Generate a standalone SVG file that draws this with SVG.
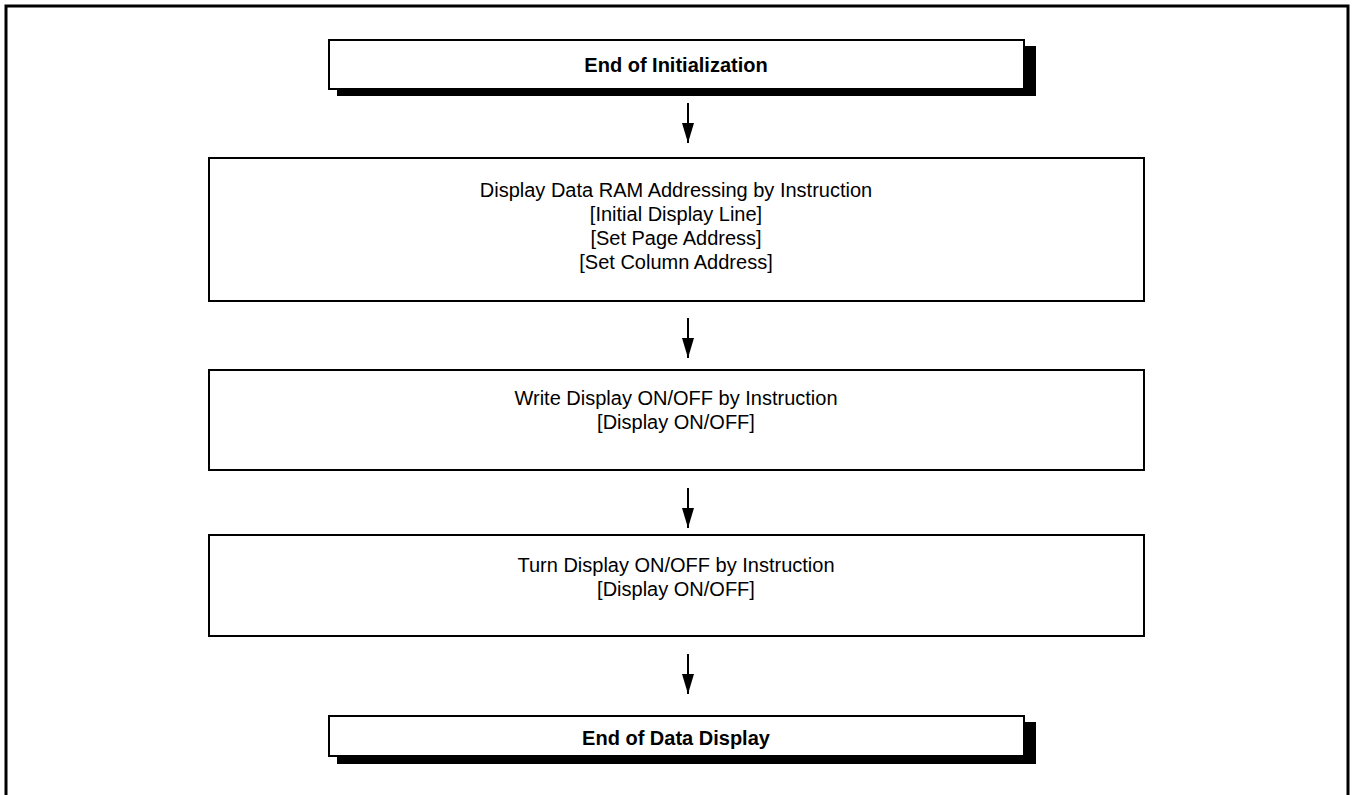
<svg xmlns="http://www.w3.org/2000/svg" width="1352" height="795" viewBox="0 0 1352 795">
<defs>
<style>
.t{font-family:"Liberation Sans",Arial,sans-serif;font-size:20px;fill:#000;text-anchor:middle}
.b{font-weight:bold}
.box{fill:#fff;stroke:#000;stroke-width:2}
.sh{fill:#000}
.c{stroke:#000;stroke-width:2;fill:none}
</style>
<marker id="ah" markerWidth="20" markerHeight="12" refX="20" refY="6" orient="auto" markerUnits="userSpaceOnUse" viewBox="0 0 20 12">
<path d="M0,0 L20,6 L0,12 Z" fill="#000"/>
</marker>
</defs>
<rect width="1352" height="795" fill="#fff"/>
<path d="M6,800 L6,6 L1348,6 L1348,800" fill="none" stroke="#000" stroke-width="3"/>
<g id="connectors">
<line class="c" x1="688" y1="103" x2="688" y2="143" marker-end="url(#ah)"/>
<line class="c" x1="688" y1="318" x2="688" y2="358" marker-end="url(#ah)"/>
<line class="c" x1="688" y1="488" x2="688" y2="528" marker-end="url(#ah)"/>
<line class="c" x1="688" y1="654" x2="688" y2="694" marker-end="url(#ah)"/>
</g>
<g id="n1">
<rect class="sh" x="337" y="46" width="699" height="50"/>
<rect class="box" x="329" y="40" width="695" height="49"/>
<text class="t b" x="676" y="72">End of Initialization</text>
</g>
<g id="n2">
<rect class="box" x="209" y="158" width="935" height="143"/>
<text class="t" x="676" y="197">Display Data RAM Addressing by Instruction</text>
<text class="t" x="676" y="221">[Initial Display Line]</text>
<text class="t" x="676" y="245">[Set Page Address]</text>
<text class="t" x="676" y="269">[Set Column Address]</text>
</g>
<g id="n3">
<rect class="box" x="209" y="370" width="935" height="100"/>
<text class="t" x="676" y="405">Write Display ON/OFF by Instruction</text>
<text class="t" x="676" y="429">[Display ON/OFF]</text>
</g>
<g id="n4">
<rect class="box" x="209" y="535" width="935" height="101"/>
<text class="t" x="676" y="572">Turn Display ON/OFF by Instruction</text>
<text class="t" x="676" y="596">[Display ON/OFF]</text>
</g>
<g id="n5">
<rect class="sh" x="337" y="722" width="699" height="42"/>
<rect class="box" x="329" y="716" width="695" height="40"/>
<text class="t b" x="676" y="745">End of Data Display</text>
</g>
</svg>
